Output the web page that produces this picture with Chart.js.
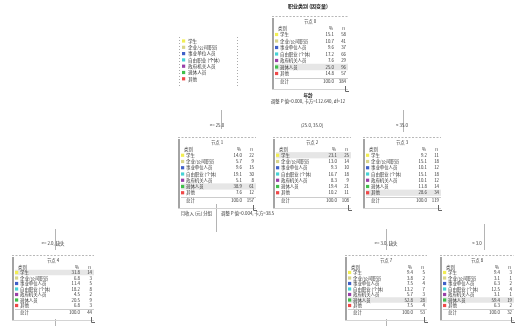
<!DOCTYPE html>
<html>
<head>
<meta charset="utf-8">
<script src="https://cdn.jsdelivr.net/npm/chart.js@4.4.0/dist/chart.umd.min.js"></script>
<style>
  html, body { margin: 0; padding: 0; background: #fff; }
  #box { width: 521px; height: 326px; position: relative; }
</style>
</head>
<body>
<div id="box"><canvas id="arvore"></canvas></div>
<script>
// categorias e cores (legenda)
var categorias = ['学生', '企业/公司职员', '事业单位人员', '自由职业 (个体)', '政府机关人员', '退休人员', '其他'];
var cores = ['#f2ee52', '#d8d48a', '#3f5fc8', '#46d2d6', '#9a3fa8', '#3fbf4a', '#f04848'];

// contagens por nó
var no0 = [58, 41, 37, 66, 29, 96, 57];
var no1 = [22, 9, 15, 30, 8, 61, 12];
var no2 = [25, 14, 10, 18, 9, 21, 11];
var no3 = [11, 18, 12, 18, 12, 14, 34];
var no4 = [14, 3, 5, 8, 2, 9, 3];
var no7 = [5, 2, 4, 7, 3, 28, 4];
var no8 = [3, 1, 2, 4, 1, 19, 2];

// textos
var titulo = '职业类别 (因变量)';
var nomesNos = ['节点 0', '节点 1', '节点 2', '节点 3', '节点 4', '节点 7', '节点 8'];
var rotulosRamo = ['', '<= 25.0', '(25.0, 35.0]', '> 35.0', '<= 2.0, 缺失', '<= 3.0, 缺失', '> 3.0'];
var divisao0 = ['年龄', '调整 P 值=0.000, 卡方=112.640, df=12'];
var divisao1 = ['月收入 (元) 分组', '调整 P 值=0.004, 卡方=38.5'];

// layout (posição de cada nó em unidades do eixo)
var layout = [
    { x: 272, y: 13, w: 76, h: 76, dados: no0, dest: 5 },
    { x: 178, y: 134, w: 78, h: 74, dados: no1, dest: 5 },
    { x: 273, y: 134, w: 78, h: 74, dados: no2, dest: 0 },
    { x: 363, y: 134, w: 78, h: 74, dados: no3, dest: 6 },
    { x: 12, y: 252, w: 82, h: 68, dados: no4, dest: 0 },
    { x: 345, y: 252, w: 82, h: 68, dados: no7, dest: 5 },
    { x: 440, y: 252, w: 74, h: 68, dados: no8, dest: 5 }
];

var fonte = '"Noto Sans CJK SC", "Noto Sans", sans-serif';

function linhaDs(pts) {
    return {
        type: 'line', data: pts, showLine: true, borderColor: '#b4b4b4',
        borderWidth: 1, pointRadius: 0, fill: false
    };
}

// arestas
var arestas = [
    linhaDs([{ x: 221.5, y: 110 }, { x: 221.5, y: 129 }]),
    linhaDs([{ x: 403.5, y: 110 }, { x: 403.5, y: 132 }]),
    linhaDs([{ x: 216.5, y: 204 }, { x: 216.5, y: 232 }]),
    linhaDs([{ x: 55.5, y: 229 }, { x: 55.5, y: 250 }]),
    linhaDs([{ x: 55.5, y: 319 }, { x: 55.5, y: 326 }]),
    linhaDs([{ x: 386.5, y: 229 }, { x: 386.5, y: 250 }]),
    linhaDs([{ x: 386.5, y: 319 }, { x: 386.5, y: 326 }]),
    linhaDs([{ x: 484.5, y: 224 }, { x: 484.5, y: 250 }])
];

var pontosNos = layout.map(function (n) { return { x: n.x + n.w / 2, y: n.y + n.h / 2 }; });

function txt(ctx, s, x, y, cor, tam, alin, peso) {
    ctx.fillStyle = cor || '#333';
    ctx.font = (peso || 'normal') + ' ' + (tam || 4.6) + 'px ' + fonte;
    ctx.textAlign = alin || 'left';
    ctx.textBaseline = 'middle';
    ctx.fillText(s, x, y);
}

var desenhaArvore = {
    id: 'desenhaArvore',
    afterDatasetsDraw: function (chart) {
        var ctx = chart.ctx;
        var sx = chart.scales.x, sy = chart.scales.y;
        function px(v) { return sx.getPixelForValue(v); }
        function py(v) { return sy.getPixelForValue(v); }
        ctx.save();

        // titulo
        txt(ctx, titulo, px(308), py(6), '#222', 5, 'center', 'bold');

        // legenda
        ctx.strokeStyle = '#aaa';
        ctx.lineWidth = 1;
        ctx.setLineDash([1, 2]);
        ctx.beginPath();
        ctx.moveTo(px(179.5), py(37)); ctx.lineTo(px(179.5), py(86));
        ctx.moveTo(px(237.5), py(37)); ctx.lineTo(px(237.5), py(86));
        ctx.stroke();
        ctx.setLineDash([]);
        categorias.forEach(function (c, i) {
            var yy = py(41 + i * 6.3);
            ctx.fillStyle = cores[i];
            ctx.fillRect(px(182), yy - 1.6, 3.2, 3.2);
            txt(ctx, c, px(188), yy, '#333', 4.6);
        });

        // nós
        layout.forEach(function (n, k) {
            var x0 = px(n.x), y0 = py(n.y), w = n.w, h = n.h;
            var total = n.dados.reduce(function (a, b) { return a + b; }, 0);
            var passo = (h - 24) / 8;

            // linha superior tracejada
            ctx.strokeStyle = '#b8b8b8';
            ctx.setLineDash([2, 1.5]);
            ctx.beginPath(); ctx.moveTo(x0, y0 + 3.5); ctx.lineTo(x0 + w, y0 + 3.5); ctx.stroke();
            ctx.setLineDash([]);

            txt(ctx, nomesNos[k], x0 + w / 2, y0 + 8, '#333', 4.4, 'center');

            var yCab = y0 + 15;
            txt(ctx, '类别', x0 + 6, yCab, '#333', 4.4);
            txt(ctx, '%', x0 + w - 15, yCab, '#333', 4.4, 'right');
            txt(ctx, 'n', x0 + w - 3, yCab, '#333', 4.4, 'right');

            // linha destacada
            var yDest = yCab + passo * (n.dest + 1);
            ctx.fillStyle = '#e6e6e6';
            ctx.fillRect(x0 + 3, yDest - passo / 2, w - 3, passo);

            n.dados.forEach(function (v, i) {
                var yy = yCab + passo * (i + 1);
                ctx.fillStyle = cores[i];
                ctx.fillRect(x0 + 3, yy - 1.6, 3.2, 3.2);
                txt(ctx, categorias[i], x0 + 8, yy, '#333', 4.4);
                txt(ctx, (100 * v / total).toFixed(1), x0 + w - 14, yy, '#333', 4.4, 'right');
                txt(ctx, String(v), x0 + w - 2, yy, '#333', 4.4, 'right');
            });

            var yTot = yCab + passo * 8 + 1;
            ctx.strokeStyle = '#cccccc';
            ctx.beginPath(); ctx.moveTo(x0 + 3, Math.round(yTot - passo / 2) + 0.5); ctx.lineTo(x0 + w, Math.round(yTot - passo / 2) + 0.5); ctx.stroke();
            txt(ctx, '总计', x0 + 8, yTot, '#333', 4.4);
            txt(ctx, '100.0', x0 + w - 14, yTot, '#333', 4.4, 'right');
            txt(ctx, String(total), x0 + w - 2, yTot, '#333', 4.4, 'right');

            // barra esquerda e borda inferior
            ctx.fillStyle = '#a4a4a4';
            ctx.fillRect(x0, y0 + 5, 2, h - 5);
            ctx.strokeStyle = '#d4d4d4';
            ctx.beginPath(); ctx.moveTo(x0, y0 + h + 0.5); ctx.lineTo(x0 + w, y0 + h + 0.5); ctx.stroke();

            // marca no canto
            ctx.strokeStyle = '#666';
            ctx.beginPath();
            ctx.moveTo(x0 + w - 2.5, y0 + h - 3); ctx.lineTo(x0 + w - 2.5, y0 + h + 2.5); ctx.lineTo(x0 + w + 1, y0 + h + 2.5);
            ctx.stroke();

            // rotulo do ramo
            if (rotulosRamo[k]) {
                txt(ctx, rotulosRamo[k], x0 + w / 2, y0 - 9, '#333', 4.4, 'center');
            }
        });

        // textos de divisão
        txt(ctx, divisao0[0], px(308), py(95), '#222', 4.6, 'center', 'bold');
        txt(ctx, divisao0[1], px(308), py(101), '#333', 4.4, 'center');
        txt(ctx, divisao1[0], px(212), py(213), '#333', 4.4, 'right');
        txt(ctx, divisao1[1], px(221), py(213), '#333', 4.4, 'left');

        ctx.restore();
    }
};

var ctx = document.getElementById('arvore');
var grafico = new Chart(ctx, {
    type: 'scatter',
    data: {
        datasets: [{ data: pontosNos, pointRadius: 0 }].concat(arestas)
    },
    options: {
        responsive: true,
        maintainAspectRatio: false,
        animation: false,
        layout: { padding: 0 },
        scales: {
            x: { type: 'linear', min: 0, max: 521, display: false },
            y: { type: 'linear', min: 0, max: 326, reverse: true, display: false }
        },
        plugins: { legend: { display: false }, tooltip: { enabled: false } }
    },
    plugins: [desenhaArvore]
});
</script>
</body>
</html>
